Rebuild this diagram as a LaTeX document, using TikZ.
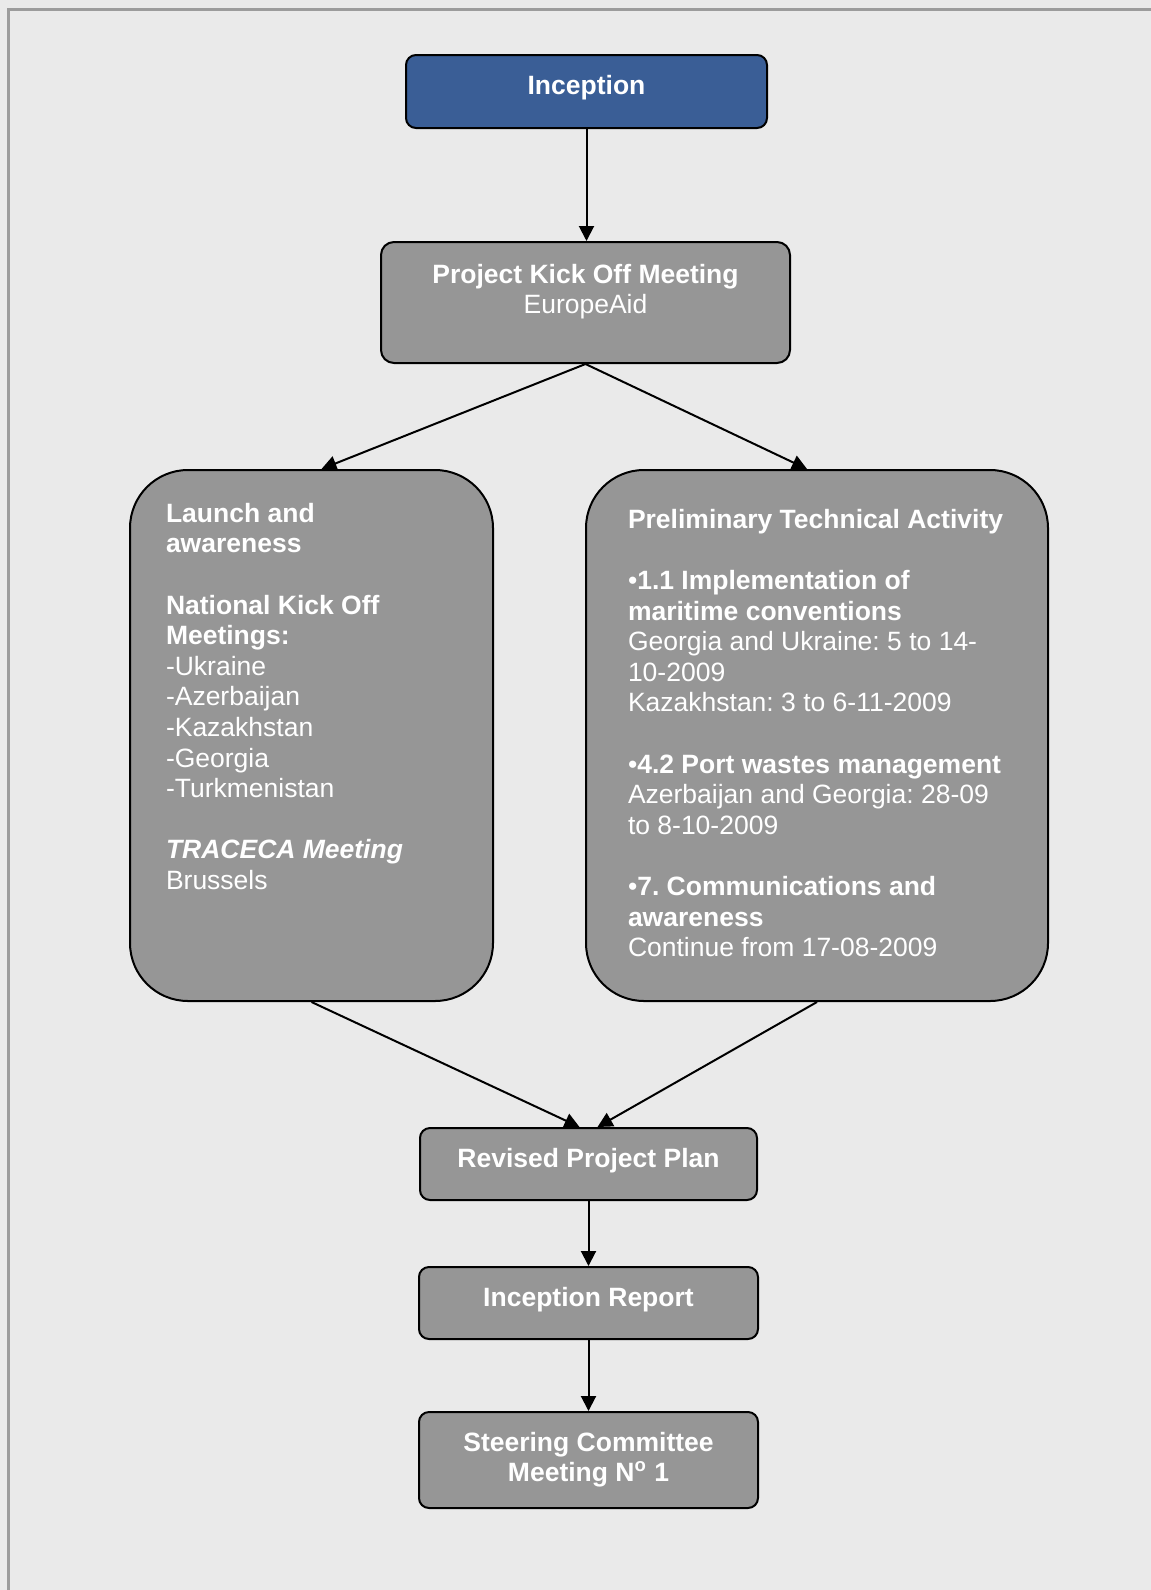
\documentclass[tikz,border=0pt]{standalone}
\usepackage{fontspec}
\setmainfont{Liberation Sans}
\frenchspacing
\usetikzlibrary{arrows.meta}
\definecolor{pagebg}{HTML}{EAEAEA}
\definecolor{frameline}{HTML}{9C9C9C}
\definecolor{boxgray}{HTML}{969696}
\definecolor{boxblue}{HTML}{3A5E96}
\newcommand{\midtext}[4]{\parbox[c][#2][t]{#1}{\centering\vspace*{#3}#4\par}}
\newcommand{\lefttext}[5]{\parbox[c][#2][t]{#1}{\raggedright\leftskip=#4\relax\vspace*{#3}#5\par}}

\begin{document}
\begin{tikzpicture}[x=0.5pt,y=-0.5pt,>={Triangle[length=7.5pt,width=7.5pt]},
 font=\fontsize{13.25}{15.3}\selectfont,
 graybox/.style={draw=black,line width=1pt,fill=boxgray,text=white,inner sep=0pt,rounded corners=5pt},
 bluebox/.style={graybox,fill=boxblue},
 arr/.style={->,line width=1pt}]
\fill[pagebg] (0,0) rectangle (1151,1590);
\useasboundingbox (0,0) rectangle (1151,1590);
\draw[frameline,line width=1.5pt] (8,1590) -- (8,9) -- (1151,9);
\node[bluebox] (incep) at (586.5,91.5) {\midtext{180.5pt}{36.5pt}{10pt}{\textbf{Inception}}};
\node[graybox,rounded corners=6.5pt] (kick) at (585.5,302.5) {\midtext{204.5pt}{60.5pt}{11pt}{\textbf{Project Kick Off Meeting}\\EuropeAid}};
\node[graybox,rounded corners=29pt] (launch) at (311.5,735.5) {\lefttext{181.5pt}{265.5pt}{16.5pt}{18pt}{%
 \textbf{Launch and}\\ \textbf{awareness}\\[\baselineskip]
 \textbf{National Kick Off}\\ \textbf{Meetings:}\\
 -Ukraine\\ -Azerbaijan\\ -Kazakhstan\\ -Georgia\\ -Turkmenistan\\[\baselineskip]
 \textbf{\textit{TRACECA Meeting}}\\ Brussels}};
\node[graybox,rounded corners=29pt] (prelim) at (817,735.5) {\lefttext{231pt}{265.5pt}{19.5pt}{21pt}{%
 \textbf{Preliminary Technical Activity}\\[\baselineskip]
 •\textbf{1.1 Implementation of}\\ \textbf{maritime conventions}\\
 Georgia and Ukraine: 5 to 14-\\ 10-2009\\ Kazakhstan: 3 to 6-11-2009\\[\baselineskip]
 •\textbf{4.2 Port wastes management}\\ Azerbaijan and Georgia: 28-09\\ to 8-10-2009\\[\baselineskip]
 •\textbf{7. Communications and}\\ \textbf{awareness}\\ Continue from 17-08-2009}};
\node[graybox] (revised) at (588.5,1164) {\midtext{168.5pt}{36pt}{10pt}{\textbf{Revised Project Plan}}};
\node[graybox] (report) at (588.5,1303) {\midtext{169.5pt}{36pt}{10pt}{\textbf{Inception Report}}};
\node[graybox] (steer) at (588.5,1460) {\midtext{169.5pt}{48pt}{10pt}{\textbf{Steering Committee\\Meeting N\textsuperscript{o} 1}}};
\draw[arr] (incep.south) -- (incep.south |- kick.north);
\draw[arr] (kick.south) -- ([xshift=5pt]launch.north); \draw[arr] (kick.south) -- ([xshift=-5pt]prelim.north);
\draw[arr] (launch.south) -- ([xshift=-4.5pt]revised.north); \draw[arr] (prelim.south) -- ([xshift=4.5pt]revised.north);
\draw[arr] (revised) -- (report); \draw[arr] (report) -- (steer);
\end{tikzpicture}
\end{document}
